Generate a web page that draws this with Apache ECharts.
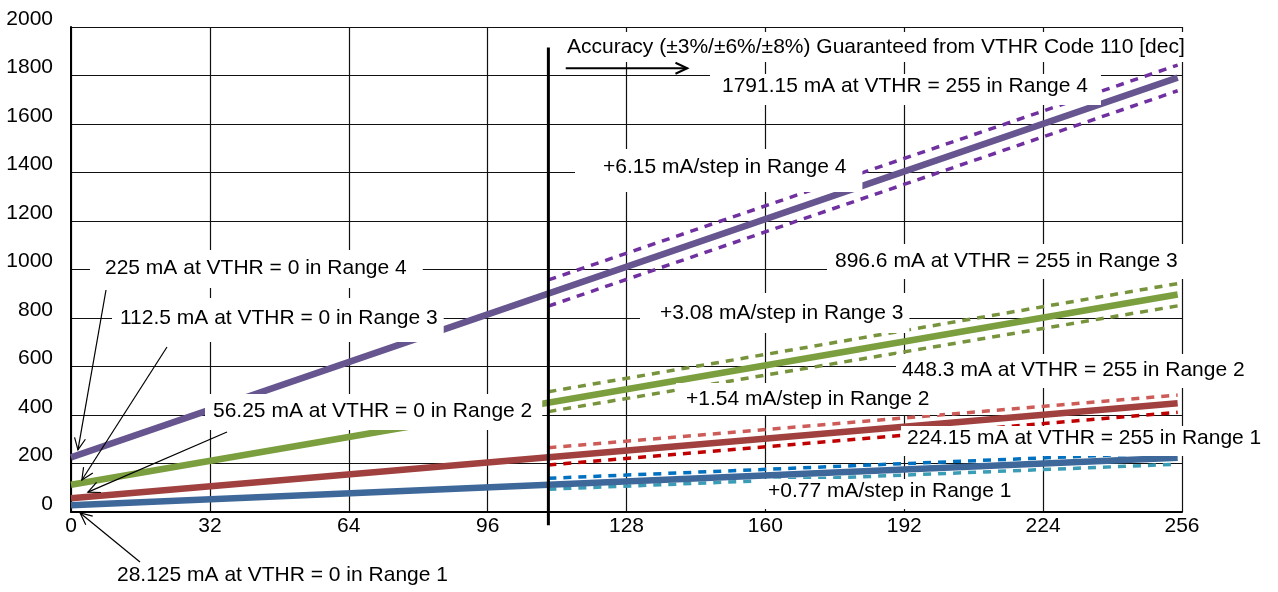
<!DOCTYPE html>
<html>
<head>
<meta charset="utf-8">
<script src="https://cdn.jsdelivr.net/npm/echarts@6/dist/echarts.min.js"></script>
<style>
	html, body { margin: 0; padding: 0; background: #fff; }
	#chart { width: 1278px; height: 592px; }
</style>
</head>
<body>
<div id="chart"></div>
<script>
// VTHR codes (x) and current in mA (y)
var codes = [0, 255];
var guardCodes = [110, 255];

var range4 = [225, 1791.15];
var range3 = [112.5, 896.6];
var range2 = [56.25, 448.3];
var range1 = [28.125, 224.15];

var range4Hi = [957, 1843];
var range4Lo = [849, 1737];
var range3Hi = [496, 942];
var range3Lo = [414, 850];
var range2Hi = [265, 482];
var range2Lo = [194, 411];
var range1Hi = [139, 246];
var range1Lo = [94, 197];

var FONT = '21px "Liberation Sans", Arial, sans-serif';

// text, left of text, middle of text, padding [t, r, b, l]
var notes = [
	["Accuracy (\u00b13%/\u00b16%/\u00b18%) Guaranteed from VTHR Code 110 [dec]", 567, 47, [3, 6, 3, 12]],
	["1791.15 mA at VTHR = 255 in Range 4", 722, 86, [0, 13, 7, 12]],
	["+6.15 mA/step in Range 4", 603, 167, [6, 16, 13, 28]],
	["225 mA at VTHR = 0 in Range 4", 105, 268, [6, 16, 8, 15]],
	["896.6 mA at VTHR = 255 in Range 3", 835, 261, [5, 8, 6, 8]],
	["112.5 mA at VTHR = 0 in Range 3", 120, 318, [8, 6, 12, 8]],
	["+3.08 mA/step in Range 3", 660, 313, [8, 6, 8, 20]],
	["448.3 mA at VTHR = 255 in Range 2", 902, 370, [4, 6, 6, 6]],
	["56.25 mA at VTHR = 0 in Range 2", 213, 411, [5, 10, 7, 8]],
	["+1.54 mA/step in Range 2", 686, 399, [4, 10, 4, 10]],
	["224.15 mA at VTHR = 255 in Range 1", 907, 438, [0, 6, 6, 6]],
	["+0.77 mA/step in Range 1", 768, 491, [0, 10, 6, 10]],
	["28.125 mA at VTHR = 0 in Range 1", 117, 575, [4, 6, 4, 6]]
];

// pointer arrows: start in pixels, tip in data coords
var pointers = [
	[[106, 290], [1.6, 256]],
	[[167, 347], [2.5, 132]],
	[[227, 432], [3.9, 82]],
	[[140, 562], [2.1, -4]]
];

function pairs(xs, ys) {
	return xs.map(function (x, i) {
		return [x, ys[i]];
	});
}

function solid(ys, color) {
	return {
		type: "line",
		data: pairs(codes, ys),
		showSymbol: false,
		silent: true,
		z: 4,
		lineStyle: { color: color, width: 6.5 }
	};
}

function dashed(ys, color) {
	return {
		type: "line",
		data: pairs(guardCodes, ys),
		showSymbol: false,
		silent: true,
		z: 3,
		lineStyle: { color: color, width: 3.5, type: [8, 7] }
	};
}

var chart = echarts.init(document.getElementById("chart"));

chart.setOption({
	animation: false,
	backgroundColor: "#fff",
	grid: { left: 71, right: 96, top: 27, bottom: 80 },
	xAxis: {
		type: "value",
		min: 0,
		max: 256,
		interval: 32,
		axisLine: { show: true, onZero: false, lineStyle: { color: "#000", width: 2 } },
		axisTick: { show: false },
		axisLabel: { color: "#000", fontSize: 21, fontFamily: "Liberation Sans", margin: 4 },
		splitLine: { show: true, lineStyle: { color: "#111", width: 1.2 } }
	},
	yAxis: {
		type: "value",
		min: 0,
		max: 2000,
		interval: 200,
		axisLine: { show: true, onZero: false, lineStyle: { color: "#000", width: 2 } },
		axisTick: { show: false },
		axisLabel: {
			color: "#000",
			fontSize: 21,
			fontFamily: "Liberation Sans",
			margin: 18,
			verticalAlign: "bottom",
			lineHeight: 16,
			formatter: function (v) {
				return String(v);
			}
		},
		splitLine: { show: true, lineStyle: { color: "#111", width: 1.2 } }
	},
	series: [
		dashed(range4Hi, "#7030A0"),
		dashed(range4Lo, "#7030A0"),
		dashed(range3Hi, "#77933C"),
		dashed(range3Lo, "#77933C"),
		dashed(range2Hi, "#CD5B57"),
		dashed(range2Lo, "#C00000"),
		dashed(range1Hi, "#0070C0"),
		dashed(range1Lo, "#3A9CB5"),
		solid(range4, "#66558F"),
		solid(range3, "#7B9F3E"),
		solid(range2, "#A0403F"),
		solid(range1, "#3F689A")
	]
});

function px(p) {
	return chart.convertToPixel({ gridIndex: 0 }, p);
}

function arrow(a, b, w) {
	var dx = b[0] - a[0], dy = b[1] - a[1];
	var len = Math.sqrt(dx * dx + dy * dy);
	var ux = dx / len, uy = dy / len;
	var ang = 25 * Math.PI / 180, h = 13;
	function wing(s) {
		var c = Math.cos(s * ang), sn = Math.sin(s * ang);
		return [b[0] - h * (ux * c - uy * sn), b[1] - h * (ux * sn + uy * c)];
	}
	return [
		{ type: "line", z: 110, shape: { x1: a[0], y1: a[1], x2: b[0], y2: b[1] }, style: { stroke: "#000", lineWidth: w } },
		{ type: "polyline", z: 110, shape: { points: [wing(1), b, wing(-1)] }, style: { stroke: "#000", lineWidth: w, fill: null } }
	];
}

var graphics = [];

// code 110 marker
var vTop = px([110, 1915]), vBot = px([110, -55]);
graphics.push({ type: "line", z: 50, shape: { x1: vTop[0], y1: vTop[1], x2: vBot[0], y2: vBot[1] }, style: { stroke: "#000", lineWidth: 3 } });

notes.forEach(function (n) {
	var p = n[3];
	graphics.push({
		type: "text",
		z: 100,
		x: n[1] - p[3],
		y: n[2] - 12 - p[0],
		style: {
			text: n[0],
			font: FONT,
			fill: "#000",
			backgroundColor: "#fff",
			padding: p,
			lineHeight: 24,
			align: "left",
			verticalAlign: "top"
		}
	});
});

graphics = graphics.concat(arrow(px([114, 1830]), px([142, 1830]), 2));
pointers.forEach(function (a) {
	graphics = graphics.concat(arrow(a[0], px(a[1]), 1.2));
});

chart.setOption({ graphic: graphics });
</script>
</body>
</html>
